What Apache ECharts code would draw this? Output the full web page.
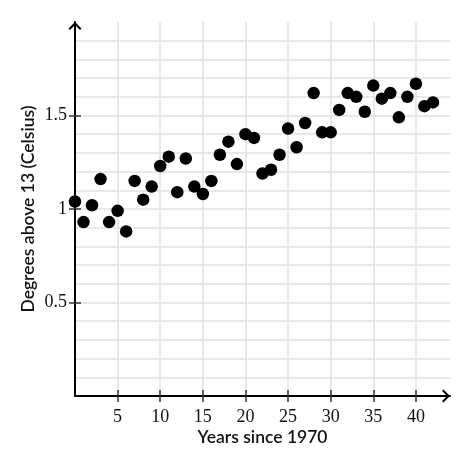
<!DOCTYPE html>
<html>
<head>
<meta charset="utf-8">
<script src="https://cdn.jsdelivr.net/npm/echarts@6/dist/echarts.min.js"></script>
<style>
  html, body { margin: 0; padding: 0; background: #fff; }
  #chart { width: 466px; height: 462px; }
</style>
</head>
<body>
<div id="chart"></div>
<script>
// years since 1970 and temperature (degrees above 13 C)
var years = [0, 1, 2, 3, 4, 5, 6, 7, 8, 9, 10, 11, 12, 13, 14, 15, 16, 17, 18, 19, 20,
    21, 22, 23, 24, 25, 26, 27, 28, 29, 30, 31, 32, 33, 34, 35, 36, 37, 38, 39, 40, 41, 42];
var degrees = [1.04, 0.93, 1.02, 1.16, 0.93, 0.99, 0.88, 1.15, 1.05, 1.12, 1.23, 1.28, 1.09, 1.27,
    1.12, 1.08, 1.15, 1.29, 1.36, 1.24, 1.40, 1.38, 1.19, 1.21, 1.29, 1.43, 1.33, 1.46,
    1.62, 1.41, 1.41, 1.53, 1.62, 1.60, 1.52, 1.66, 1.59, 1.62, 1.49, 1.60, 1.67, 1.55, 1.57];
var xTicks = [5, 10, 15, 20, 25, 30, 35, 40];
var yTicks = [0.5, 1, 1.5];

var data = [];
for (var i = 0; i < years.length; i++) {
    data.push([years[i], degrees[i]]);
}

var myChart = echarts.init(document.getElementById('chart'));

// chevron arrow head at the end of each axis
var arrow = 'path://M0,7 L7,0 L14,7 L12.4,8.6 L7,3.2 L1.6,8.6 Z';
var labelFont = { fontFamily: 'Liberation Serif', fontSize: 18, color: '#111' };
var nameFont = { fontFamily: 'Lato', fontSize: 17.5, fontWeight: 600, color: '#111' };
var tickStyle = { color: '#333', width: 1.5 };
var gridStyle = { color: '#e0e0e0', width: 1.5 };

// axis used only for the tick marks (half outside + labels, half inside)
function tickAxis(type, ticks, inside, labels, margin) {
    return {
        type: 'value', min: 0, max: type === 'x' ? 44 : 2,
        position: type === 'x' ? 'bottom' : 'left',
        axisLine: { show: false },
        axisTick: { show: true, inside: inside, length: 6, customValues: ticks, lineStyle: tickStyle },
        axisLabel: labels ? Object.assign({ show: true, customValues: ticks, margin: margin }, labelFont) : { show: false },
        splitLine: { show: false }
    };
}

var option = {
    animation: false,
    grid: { left: 75, right: 16, top: 22, bottom: 66 },
    xAxis: [{
        type: 'value', min: 0, max: 44, interval: 5,
        name: 'Years since 1970', nameLocation: 'middle', nameGap: 32,
        nameTextStyle: nameFont,
        axisLine: { show: true, onZero: false, symbol: ['none', arrow], symbolSize: [14, 8], symbolOffset: [0, -4],
            lineStyle: { color: '#000', width: 2 } },
        axisTick: { show: false },
        axisLabel: { show: false },
        splitLine: { show: true, showMinLine: false, showMaxLine: false, lineStyle: gridStyle }
    },
        tickAxis('x', xTicks, false, true, 12),
        tickAxis('x', xTicks, true, false, 0)
    ],
    yAxis: [{
        type: 'value', min: 0, max: 2, interval: 0.1,
        name: 'Degrees above 13 (Celsius)', nameLocation: 'middle', nameGap: 38,
        nameTextStyle: nameFont,
        axisLine: { show: true, onZero: false, symbol: ['none', arrow], symbolSize: [14, 8], symbolOffset: [0, -4],
            lineStyle: { color: '#000', width: 2 } },
        axisTick: { show: false },
        axisLabel: { show: false },
        splitLine: { show: true, showMinLine: false, showMaxLine: false, lineStyle: gridStyle }
    },
        tickAxis('y', yTicks, false, true, 8),
        tickAxis('y', yTicks, true, false, 0)
    ],
    series: [{
        type: 'scatter',
        symbolSize: 12.5,
        itemStyle: { color: '#000', opacity: 1 },
        data: data
    }]
};

myChart.setOption(option);
</script>
</body>
</html>
